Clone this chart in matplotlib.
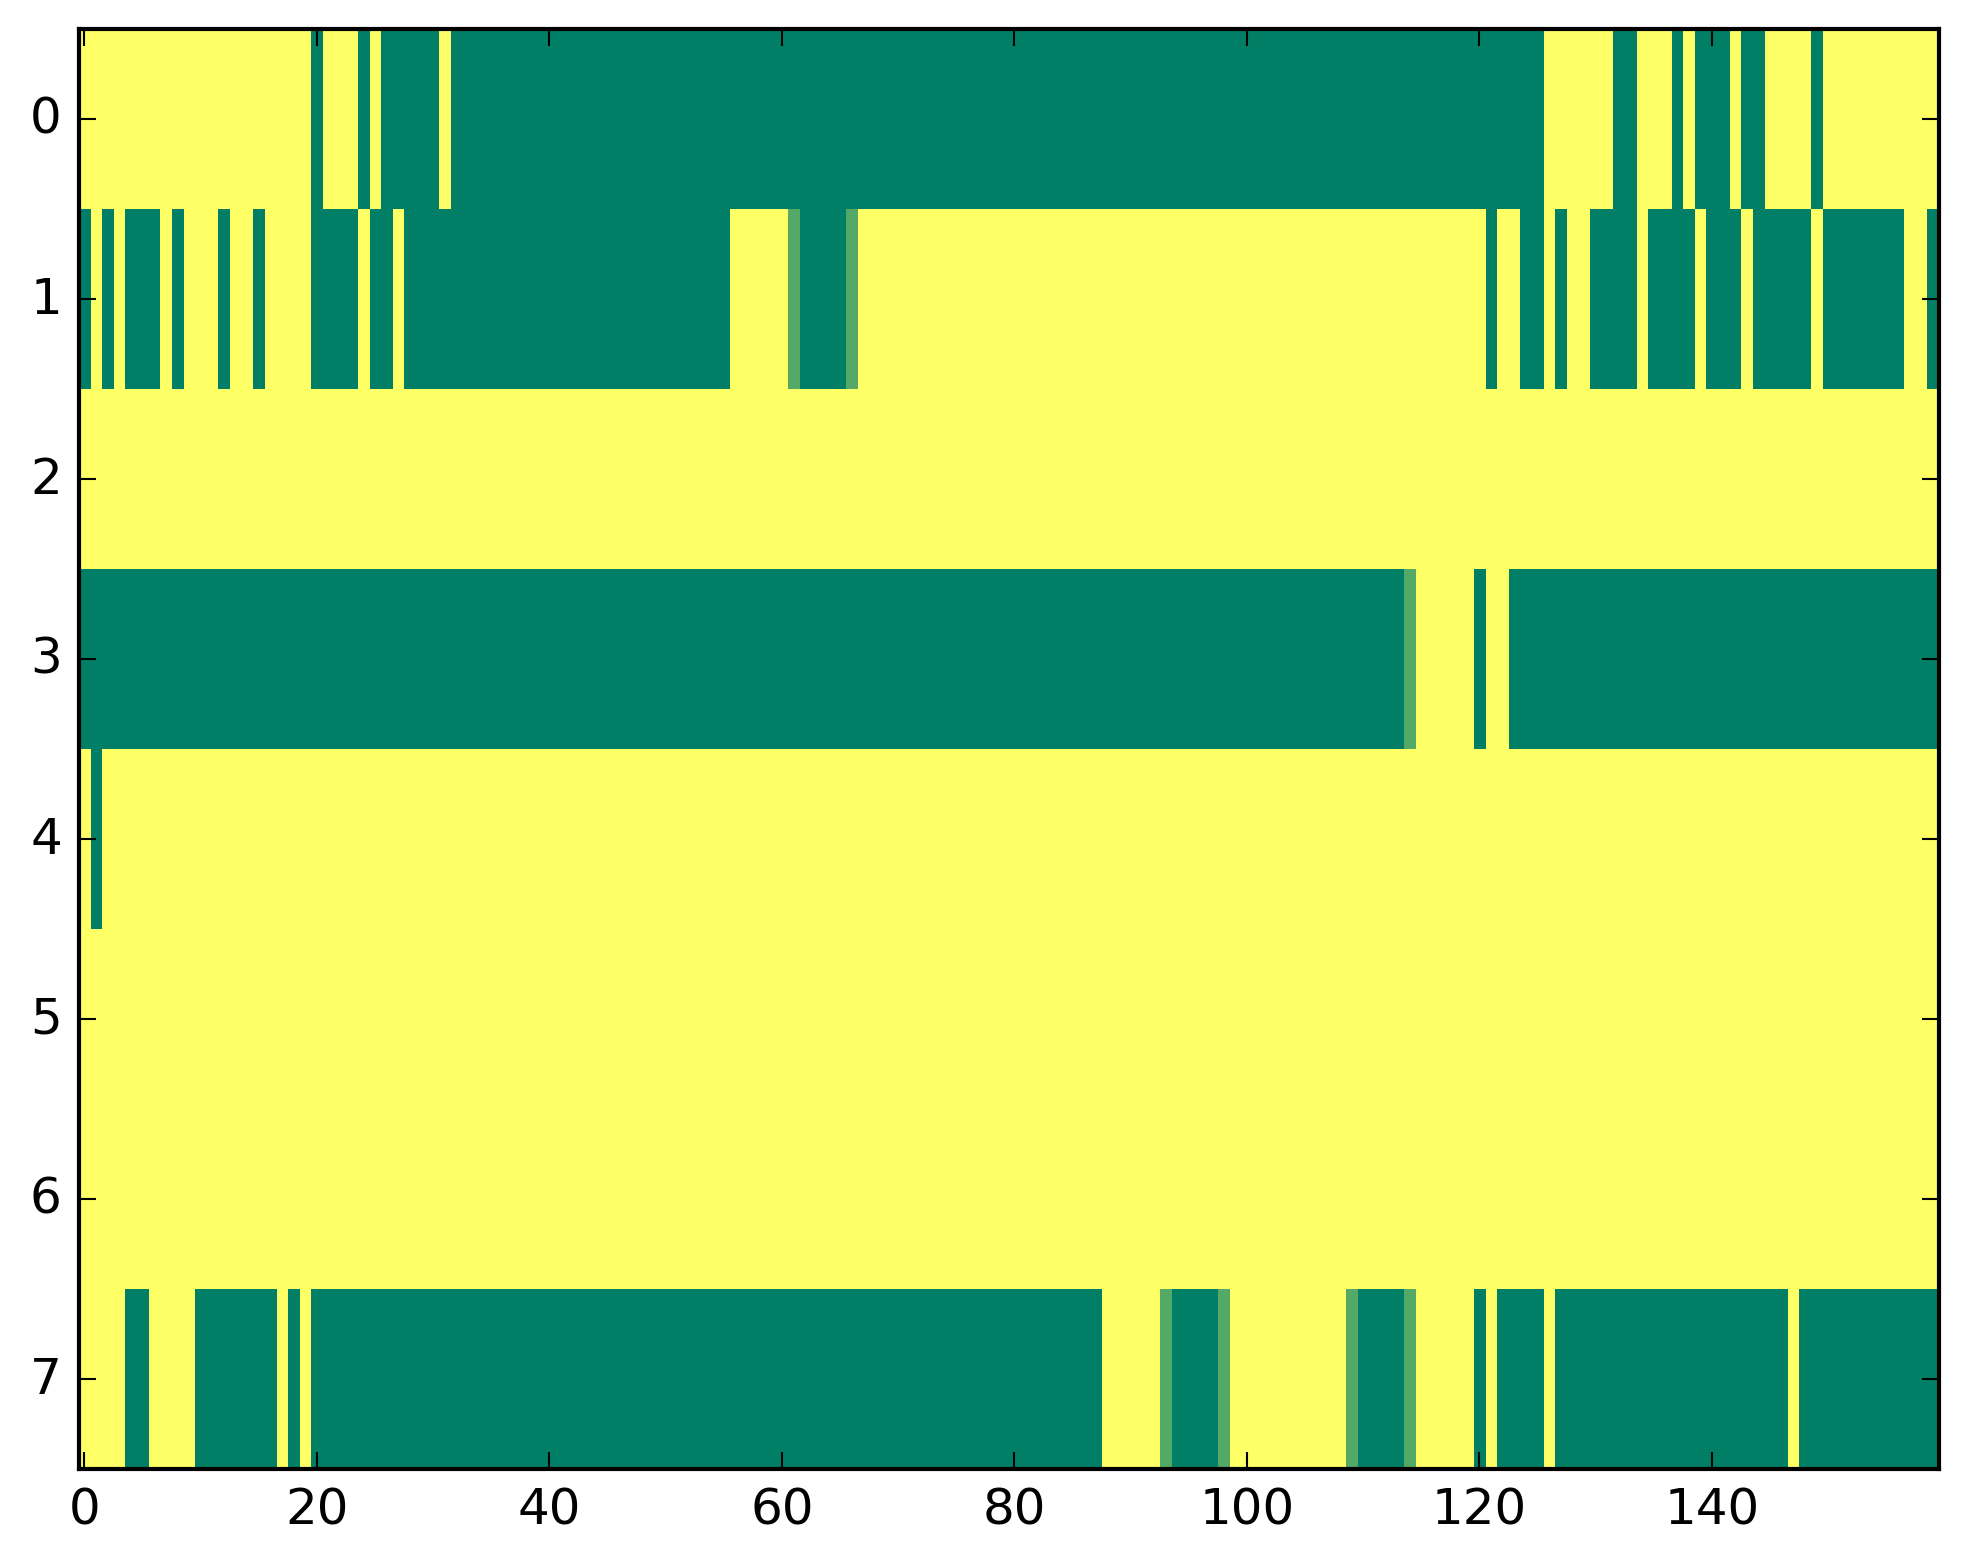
import numpy as np
import matplotlib
matplotlib.use("Agg")
import matplotlib.pyplot as plt

# each row is a list of (value, run length) pairs, 160 columns
# 1 = yellow, 0 = green, 0.33 = the paler green cells
row0 = [(1, 20), (0, 1), (1, 3), (0, 1), (1, 1), (0, 5), (1, 1), (0, 94), (1, 6),
        (0, 2), (1, 3), (0, 1), (1, 1), (0, 3), (1, 1), (0, 2), (1, 4), (0, 1), (1, 10)]
row1 = [(0, 1), (1, 1), (0, 1), (1, 1), (0, 3), (1, 1), (0, 1), (1, 3), (0, 1),
        (1, 2), (0, 1), (1, 4), (0, 4), (1, 1), (0, 2), (1, 1), (0, 28), (1, 5),
        (0.33, 1), (0, 4), (0.33, 1), (1, 54), (0, 1), (1, 2), (0, 2), (1, 1),
        (0, 1), (1, 2), (0, 4), (1, 1), (0, 4), (1, 1), (0, 3), (1, 1), (0, 5),
        (1, 1), (0, 7), (1, 2), (0, 1)]
row2 = [(1, 160)]
row3 = [(0, 114), (0.33, 1), (1, 5), (0, 1), (1, 2), (0, 37)]
row4 = [(1, 1), (0, 1), (1, 158)]
row5 = [(1, 160)]
row6 = [(1, 160)]
row7 = [(1, 4), (0, 2), (1, 4), (0, 7), (1, 1), (0, 1), (1, 1), (0, 68), (1, 5),
        (0.33, 1), (0, 4), (0.33, 1), (1, 10), (0.33, 1), (0, 4), (0.33, 1), (1, 5),
        (0, 1), (1, 1), (0, 4), (1, 1), (0, 20), (1, 1), (0, 12)]

rows = [row0, row1, row2, row3, row4, row5, row6, row7]


def expand(runs):
    out = []
    for value, count in runs:
        out.extend([value] * count)
    return out


data = np.array([expand(r) for r in rows], dtype=float)

plt.style.use("classic")
fig, ax = plt.subplots(figsize=(8, 6))
ax.imshow(data, cmap="summer", vmin=0, vmax=1, aspect="auto", interpolation="nearest")
fig.savefig("out.png", dpi=300, bbox_inches="tight")
